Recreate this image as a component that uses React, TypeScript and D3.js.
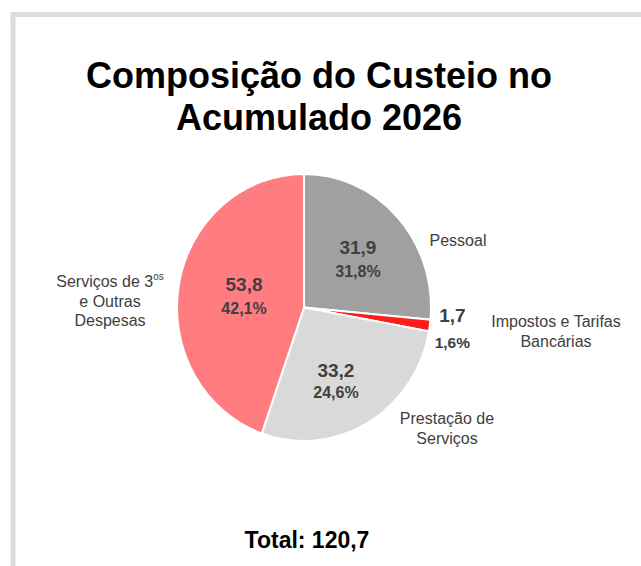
import React from "react";
import * as d3 from "d3";

const categories = ["Pessoal", "Impostos e Tarifas Bancárias", "Prestação de Serviços", "Serviços de 3os e Outras Despesas"];
const values = [31.9, 1.7, 33.2, 53.8];
const valueLabels = ["31,9", "1,7", "33,2", "53,8"];
const percentLabels = ["31,8%", "1,6%", "24,6%", "42,1%"];
const colors = ["#a0a0a0", "#ff1c1c", "#d9d9d9", "#ff7c80"];
const titleLines = ["Composição do Custeio no", "Acumulado 2026"];
const totalLabel = "Total: 120,7";

const W = 641;
const H = 566;
const CX = 304;
const CY = 307.5;
const RX = 127;
const RY = 133.5;
const K = RY / RX;

// layout of value labels: angle offset (deg) from slice mid and radius
const valueLayout = [
  { da: -0.8, r: 74, gap: 23, big: 19, small: 16 },
  { da: -2.4, r: 149, gap: 26, big: 19, small: 15.5 },
  { da: 4.3, r: 73.3, gap: 21, big: 19, small: 16 },
  { da: 5, r: 62, gap: 23, big: 19, small: 16 },
];

const catLayout = [
  { x: 458, y: 246, lines: ["Pessoal"] },
  { x: 556, y: 327, lines: ["Impostos e Tarifas", "Bancárias"] },
  { x: 447, y: 424, lines: ["Prestação de", "Serviços"] },
  { x: 110, y: 287, lines: ["Serviços de 3", "e Outras", "Despesas"] },
];

export default function App() {
  const pie = d3.pie<number>().sort(null).value((d) => d).startAngle(0).endAngle(2 * Math.PI);
  const arcs = pie(values);
  const arcGen = d3.arc<d3.PieArcDatum<number>>().innerRadius(0).outerRadius(RX);
  const polar = (aRad: number, r: number) => [CX + r * Math.sin(aRad), CY - r * Math.cos(aRad) * K];

  return (
    <svg
      width={W}
      height={H}
      viewBox={`0 0 ${W} ${H}`}
      style={{ position: "absolute", left: 0, top: 0, background: "#fff" }}
      fontFamily="'Liberation Sans', Arial, sans-serif"
    >
      <rect x={0} y={0} width={W} height={H} fill="#fff" />
      <rect x={13} y={14.5} width={W + 50} height={H + 50} fill="#fff" stroke="#dcdcdc" strokeWidth={5} />
      {titleLines.map((t, i) => (
        <text
          key={t}
          transform={`translate(319,${88 + i * 42}) scale(1,1.05)`}
          textAnchor="middle"
          fontSize={36}
          fontWeight="bold"
          fill="#000"
        >
          {t}
        </text>
      ))}
      <g transform={`translate(${CX},${CY}) scale(1,${K})`}>
        {arcs.map((a, i) => (
          <path
            key={categories[i]}
            d={arcGen(a) || ""}
            fill={colors[i]}
            stroke="#fff"
            strokeWidth={2}
            vectorEffect="non-scaling-stroke"
          />
        ))}
      </g>
      {arcs.map((a, i) => {
        const L = valueLayout[i];
        const mid = (a.startAngle + a.endAngle) / 2 + (L.da * Math.PI) / 180;
        const [x, y] = polar(mid, L.r);
        return (
          <g key={"v" + i} fill="#404040" fontWeight="bold" textAnchor="middle">
            <text x={x} y={y} fontSize={L.big}>
              {valueLabels[i]}
            </text>
            <text x={x} y={y + L.gap} fontSize={L.small}>
              {percentLabels[i]}
            </text>
          </g>
        );
      })}
      {catLayout.map((c, i) =>
        c.lines.map((l, j) => (
          <text key={"c" + i + "-" + j} x={c.x} y={c.y + j * 19.5} textAnchor="middle" fontSize={16} fill="#404040">
            {l}
            {i === 3 && j === 0 ? (
              <tspan fontSize={10} dy={-7}>
                os
              </tspan>
            ) : null}
          </text>
        ))
      )}
      <text x={307} y={548} textAnchor="middle" fontSize={23} fontWeight="bold" fill="#000">
        {totalLabel}
      </text>
    </svg>
  );
}
